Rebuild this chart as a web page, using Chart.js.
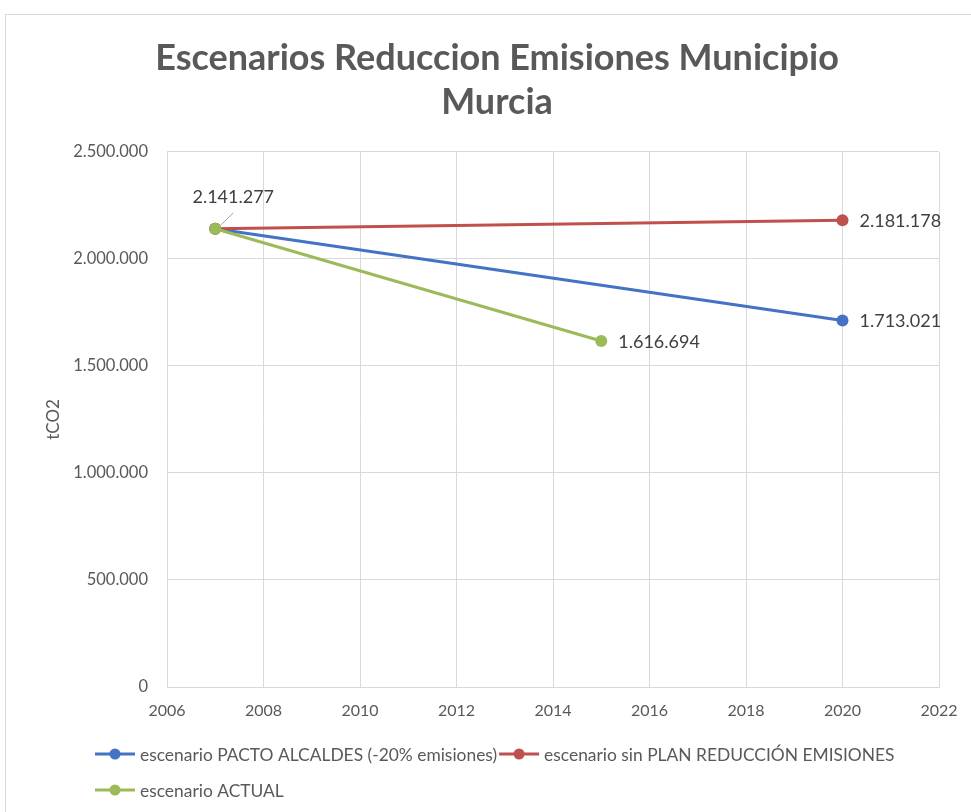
<!DOCTYPE html>
<html>
<head>
<meta charset="utf-8">
<script src="https://cdn.jsdelivr.net/npm/chart.js@4/dist/chart.umd.min.js"></script>
<style>
html,body{margin:0;padding:0;background:#fff;}
#wrap{position:relative;width:971px;height:812px;overflow:hidden;background:#fff;}
#frame{position:absolute;left:5px;top:14px;width:1100px;height:900px;border:1px solid #D9D9D9;box-sizing:border-box;}
#c{position:absolute;left:0;top:0;}
</style>
</head>
<body>
<div id="wrap"><div id="frame"></div><canvas id="c" width="971" height="812"></canvas></div>
<script>
// ---- data ----
const titleLines = ['Escenarios Reduccion Emisiones Municipio', 'Murcia'];
const yAxisTitle = 'tCO2';
const seriesNames = ['escenario PACTO ALCALDES (-20% emisiones)', 'escenario sin PLAN REDUCCIÓN EMISIONES', 'escenario ACTUAL'];
const pactoYears = [2007, 2020];
const pactoValues = [2141277, 1713021];
const sinPlanYears = [2007, 2020];
const sinPlanValues = [2141277, 2181178];
const actualYears = [2007, 2015];
const actualValues = [2141277, 1616694];
const xTickValues = [2006, 2008, 2010, 2012, 2014, 2016, 2018, 2020, 2022];
const yTickValues = [0, 500000, 1000000, 1500000, 2000000, 2500000];
const seriesColors = ['#4472C4', '#C0504D', '#9BBB59'];

const fmt = v => String(Math.round(v)).replace(/\B(?=(\d{3})+(?!\d))/g, '.');
const toPts = (xs, ys) => xs.map((x, i) => ({x: x, y: ys[i]}));

Chart.defaults.font.family = 'Lato';

const labelPlugin = {
  id: 'valueLabels',
  afterDatasetsDraw(chart) {
    const ctx = chart.ctx;
    ctx.save();
    ctx.font = '18px Lato';
    ctx.fillStyle = '#404040';
    ctx.textBaseline = 'middle';
    chart.data.datasets.forEach((ds, i) => {
      const meta = chart.getDatasetMeta(i);
      const n = meta.data.length;
      const last = meta.data[n - 1];
      ctx.textAlign = 'left';
      ctx.fillText(fmt(ds.data[n - 1].y), last.x + 17, last.y + 1);
      if (ds.showFirstLabel) {
        const first = meta.data[0];
        ctx.strokeStyle = '#A6A6A6';
        ctx.lineWidth = 1;
        ctx.beginPath();
        ctx.moveTo(first.x + 6, first.y - 4);
        ctx.lineTo(first.x + 18, first.y - 16);
        ctx.stroke();
        ctx.textAlign = 'center';
        ctx.fillText(fmt(ds.data[0].y), first.x + 18, first.y - 32);
      }
    });
    ctx.restore();
  }
};

const legendPlugin = {
  id: 'lineLegend',
  afterDraw(chart) {
    const ctx = chart.ctx;
    ctx.save();
    ctx.font = '17.4px Lato';
    ctx.textBaseline = 'middle';
    ctx.textAlign = 'left';
    const x0 = 95, rowH = 36, maxX = 965;
    let x = x0, y = 754;
    chart.data.datasets.forEach(ds => {
      const tw = ctx.measureText(ds.label).width;
      const w = 40 + 5 + tw;
      if (x + w > maxX && x > x0) { x = x0; y += rowH; }
      ctx.strokeStyle = ds.borderColor;
      ctx.lineWidth = 3;
      ctx.beginPath();
      ctx.moveTo(x, y);
      ctx.lineTo(x + 40, y);
      ctx.stroke();
      ctx.fillStyle = ds.borderColor;
      ctx.beginPath();
      ctx.arc(x + 20, y, 5.5, 0, Math.PI * 2);
      ctx.fill();
      ctx.fillStyle = '#595959';
      ctx.fillText(ds.label, x + 45, y + 1);
      x += w + 2;
    });
    ctx.restore();
  }
};

const mkDs = (i, pts, order, extra) => Object.assign({
  label: seriesNames[i],
  data: pts,
  borderColor: seriesColors[i],
  backgroundColor: seriesColors[i],
  pointBackgroundColor: seriesColors[i],
  pointBorderColor: seriesColors[i],
  borderWidth: 3,
  pointRadius: 6,
  pointBorderWidth: 0,
  pointHoverRadius: 6,
  tension: 0,
  order: order
}, extra || {});

new Chart(document.getElementById('c'), {
  type: 'line',
  data: {
    datasets: [
      mkDs(0, toPts(pactoYears, pactoValues), 2),
      mkDs(1, toPts(sinPlanYears, sinPlanValues), 1),
      mkDs(2, toPts(actualYears, actualValues), 0, {showFirstLabel: true})
    ]
  },
  options: {
    responsive: false,
    animation: false,
    events: [],
    layout: { padding: { left: 55, right: 32, top: 0, bottom: 85 } },
    plugins: {
      legend: { display: false },
      tooltip: { enabled: false },
      title: {
        display: true,
        text: titleLines,
        color: '#595959',
        font: { family: 'Lato', size: 36, weight: 'bold', lineHeight: 1.222 },
        padding: { top: 36, bottom: 28 }
      }
    },
    scales: {
      x: {
        type: 'linear',
        min: xTickValues[0],
        max: xTickValues[xTickValues.length - 1],
        afterBuildTicks(s) { s.ticks = xTickValues.map(v => ({value: v})); },
        ticks: { color: '#595959', font: { size: 16 }, padding: 14, maxRotation: 0, autoSkip: false, callback: v => String(v) },
        grid: { color: '#D9D9D9', drawTicks: false, lineWidth: 1 },
        border: { color: '#D9D9D9' },
        afterFit(s) { s.height = 40; s.paddingLeft = 0; s.paddingRight = 0; }
      },
      y: {
        type: 'linear',
        min: yTickValues[0],
        max: yTickValues[yTickValues.length - 1],
        afterBuildTicks(s) { s.ticks = yTickValues.map(v => ({value: v})); },
        ticks: { color: '#595959', font: { size: 16.5 }, padding: 19, callback: v => fmt(v) },
        grid: { color: '#D9D9D9', drawTicks: false, lineWidth: 1 },
        border: { color: '#D9D9D9' },
        title: { display: true, text: yAxisTitle, color: '#595959', font: { size: 17 }, padding: { top: -12, bottom: 0 } },
        afterFit(s) { s.width = 112; s.paddingTop = 0; s.paddingBottom = 0; }
      }
    }
  },
  plugins: [labelPlugin, legendPlugin]
});
</script>
</body>
</html>
